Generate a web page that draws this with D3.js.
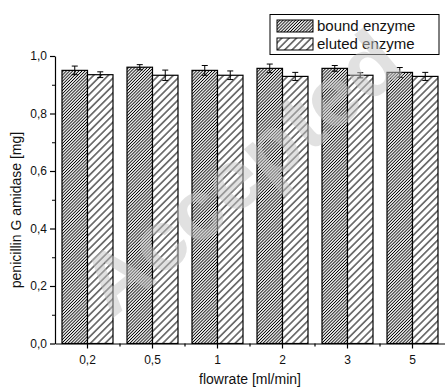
<!DOCTYPE html>
<html>
<head>
<meta charset="UTF-8">
<title>Penicillin G amidase vs flowrate</title>
<script src="https://d3js.org/d3.v7.min.js"></script>
<style>
  body { margin: 0; background: #fff; }
  svg { font-family: "Liberation Sans", Arial, sans-serif; display: block; }
</style>
</head>
<body>
<div id="chart"></div>
<script>
// data
var categories = ["0,2", "0,5", "1", "2", "3", "5"];
var series = ["bound enzyme", "eluted enzyme"];
var bound = [0.950, 0.961, 0.950, 0.957, 0.957, 0.943];
var boundErr = [0.015, 0.009, 0.017, 0.015, 0.010, 0.017];
var eluted = [0.935, 0.933, 0.933, 0.929, 0.933, 0.929];
var elutedErr = [0.010, 0.018, 0.015, 0.014, 0.009, 0.014];
var yTicks = [0, 0.2, 0.4, 0.6, 0.8, 1.0];
var yMinor = [0.1, 0.3, 0.5, 0.7, 0.9];

var width = 445, height = 387;

var svg = d3.select("#chart").append("svg")
  .attr("width", width)
  .attr("height", height);

// hatch patterns
var defs = svg.append("defs");
function hatch(id, w, sw) {
  var p = defs.append("pattern")
    .attr("id", id)
    .attr("patternUnits", "userSpaceOnUse")
    .attr("width", w).attr("height", w)
    .attr("patternTransform", "rotate(45)");
  p.append("rect").attr("width", w).attr("height", w).attr("fill", "#fff");
  p.append("line")
    .attr("x1", w / 2).attr("y1", 0).attr("x2", w / 2).attr("y2", w)
    .attr("stroke", "#000").attr("stroke-width", sw);
}
hatch("hatchDense", 2.2, 0.9);
hatch("hatchSparse", 5.2, 1);
var fills = ["url(#hatchDense)", "url(#hatchSparse)"];

var x = d3.scaleBand().domain(categories).range([55, 445]).padding(0);
var xs = d3.scaleBand().domain(series).range([7, 58]).padding(0);
var y = d3.scaleLinear().domain([0, 1]).range([343.5, 56]);

var rows = categories.map(function(c, i) {
  return [
    { cat: c, s: series[0], v: bound[i], e: boundErr[i] },
    { cat: c, s: series[1], v: eluted[i], e: elutedErr[i] }
  ];
});

var groups = svg.append("g").selectAll("g")
  .data(rows)
  .enter().append("g")
  .attr("transform", function(d) { return "translate(" + x(d[0].cat) + ",0)"; });

groups.selectAll("rect")
  .data(function(d) { return d; })
  .enter().append("rect")
  .attr("x", function(d) { return xs(d.s); })
  .attr("y", function(d) { return y(d.v); })
  .attr("width", xs.bandwidth())
  .attr("height", function(d) { return y(0) - y(d.v); })
  .attr("fill", function(d, i) { return fills[i]; })
  .attr("stroke", "#000")
  .attr("stroke-width", 1.2);

// error bars
var eb = groups.selectAll("g.err")
  .data(function(d) { return d; })
  .enter().append("g").attr("class", "err")
  .attr("stroke", "#000").attr("stroke-width", 1);
eb.append("line")
  .attr("x1", function(d) { return xs(d.s) + xs.bandwidth() / 2; })
  .attr("x2", function(d) { return xs(d.s) + xs.bandwidth() / 2; })
  .attr("y1", function(d) { return y(d.v + d.e); })
  .attr("y2", function(d) { return y(d.v - d.e); });
[1, -1].forEach(function(sgn) {
  eb.append("line")
    .attr("x1", function(d) { return xs(d.s) + xs.bandwidth() / 2 - 3; })
    .attr("x2", function(d) { return xs(d.s) + xs.bandwidth() / 2 + 3; })
    .attr("y1", function(d) { return y(d.v + sgn * d.e); })
    .attr("y2", function(d) { return y(d.v + sgn * d.e); });
});

// axes
var fmt = function(d) { return d3.format(".1f")(d).replace(".", ","); };

var yAxis = svg.append("g")
  .attr("transform", "translate(55,0)")
  .call(d3.axisLeft(y).tickValues(yTicks).tickFormat(fmt).tickSize(5).tickSizeOuter(0));
svg.append("g")
  .attr("transform", "translate(55,0)")
  .call(d3.axisLeft(y).tickValues(yMinor).tickFormat("").tickSize(3).tickSizeOuter(0))
  .select(".domain").remove();

var xAxis = svg.append("g")
  .attr("transform", "translate(0," + y(0) + ")")
  .call(d3.axisBottom(x).tickSize(5).tickSizeOuter(0));
svg.append("g")
  .selectAll("line")
  .data(categories.slice(1))
  .enter().append("line")
  .attr("x1", function(d) { return x(d); })
  .attr("x2", function(d) { return x(d); })
  .attr("y1", y(0)).attr("y2", y(0) + 3)
  .attr("stroke", "#000").attr("stroke-width", 1.2);

[yAxis, xAxis].forEach(function(a) {
  a.selectAll(".domain").attr("stroke-width", 1.2);
  a.selectAll(".tick line").attr("stroke-width", 1.2);
  a.selectAll("text").attr("font-size", 12).attr("font-family", null).attr("fill", "#111");
});
yAxis.selectAll("text").attr("x", -8);
xAxis.selectAll("text").attr("dy", "1.1em").attr("y", 7);

// axis titles
svg.append("text")
  .attr("x", 250).attr("y", 384)
  .attr("text-anchor", "middle")
  .attr("font-size", 14).attr("fill", "#111")
  .text("flowrate [ml/min]");
svg.append("text")
  .attr("transform", "translate(21,210) rotate(-90)")
  .attr("text-anchor", "middle")
  .attr("font-size", 14).attr("fill", "#111")
  .text("penicillin G amidase [mg]");

// legend
var legend = svg.append("g");
legend.append("rect")
  .attr("x", 270).attr("y", 14.5).attr("width", 169).attr("height", 40)
  .attr("fill", "#fff").attr("stroke", "#000").attr("stroke-width", 1);
series.forEach(function(s, i) {
  legend.append("rect")
    .attr("x", 277).attr("y", 20 + i * 18).attr("width", 36).attr("height", 12)
    .attr("fill", fills[i]).attr("stroke", "#000").attr("stroke-width", 1);
  legend.append("text")
    .attr("x", 317).attr("y", 31 + i * 18)
    .attr("font-size", 15).attr("fill", "#111")
    .text(s);
});

// watermark
svg.append("text")
  .attr("transform", "translate(245,178) rotate(-40)")
  .attr("text-anchor", "middle")
  .attr("dominant-baseline", "middle")
  .attr("font-size", 86)
  .attr("font-weight", "bold")
  .attr("fill", "#c4c4c4")
  .attr("opacity", 0.5)
  .text("Accepted");
</script>
</body>
</html>
